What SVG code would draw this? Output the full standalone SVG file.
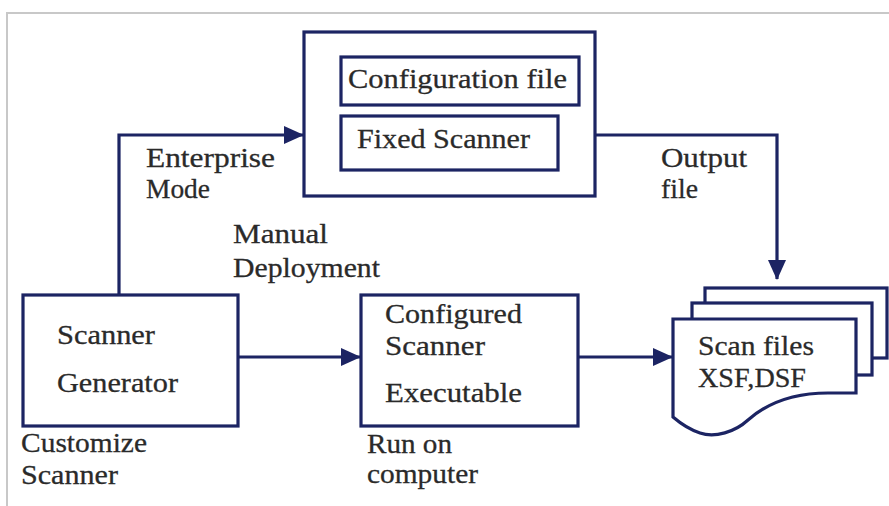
<svg xmlns="http://www.w3.org/2000/svg" width="889" height="506" viewBox="0 0 889 506">
<defs>
<style>
.box{fill:#fff;stroke:#1c2463;stroke-width:3.2}
.ln{fill:none;stroke:#1c2463;stroke-width:3.2}
text{font-family:"Liberation Serif","Times New Roman",serif;font-size:28px;fill:#2a2a2a;stroke:#2a2a2a;stroke-width:0.3}
</style>
<marker id="ah" markerUnits="userSpaceOnUse" markerWidth="20" markerHeight="20" viewBox="0 0 20 20" refX="19" refY="10" orient="auto">
<path d="M0,1 L20,10 L0,19 Z" fill="#1c2463"/>
</marker>
</defs>
<rect width="889" height="506" fill="#fff"/>
<path d="M7,506 V13 H889" fill="none" stroke="#c8c8c8" stroke-width="2"/>
<g id="connectors">
<path class="ln" d="M119,295 V135 H303" marker-end="url(#ah)"/>
<path class="ln" d="M595,135 H777 V279" marker-end="url(#ah)"/>
<path class="ln" d="M238,357 H360" marker-end="url(#ah)"/>
<path class="ln" d="M578,357 H672" marker-end="url(#ah)"/>
</g>
<g id="top-box">
<rect class="box" x="304" y="32" width="291" height="164"/>
<g id="config-file">
<rect class="box" x="341" y="57" width="238" height="48"/>
<text x="348" y="88" textLength="219" lengthAdjust="spacingAndGlyphs">Configuration file</text>
</g>
<g id="fixed-scanner">
<rect class="box" x="341" y="116" width="217" height="54"/>
<text x="357" y="148" textLength="173" lengthAdjust="spacingAndGlyphs">Fixed Scanner</text>
</g>
</g>
<g id="scanner-generator">
<rect class="box" x="23" y="295" width="215" height="131"/>
<text x="57" y="344" textLength="98" lengthAdjust="spacingAndGlyphs">Scanner</text>
<text x="57" y="392" textLength="121" lengthAdjust="spacingAndGlyphs">Generator</text>
</g>
<g id="configured-scanner">
<rect class="box" x="361" y="295" width="217" height="131"/>
<text x="385" y="323" textLength="137" lengthAdjust="spacingAndGlyphs">Configured</text>
<text x="385" y="355" textLength="100" lengthAdjust="spacingAndGlyphs">Scanner</text>
<text x="385" y="402" textLength="137" lengthAdjust="spacingAndGlyphs">Executable</text>
</g>
<g id="scan-files">
<rect class="box" x="705" y="288" width="182" height="70"/>
<rect class="box" x="692" y="303" width="180" height="72"/>
<path class="box" d="M673,319 H856 V393 H828 C790,393 765,405 748,420 C735,432 715,438 700,433 C688,429 680,423 673,417 Z"/>
<text x="698" y="355" textLength="116" lengthAdjust="spacingAndGlyphs">Scan files</text>
<text x="698" y="387" textLength="108" lengthAdjust="spacingAndGlyphs">XSF,DSF</text>
</g>
<g id="labels">
<text x="146" y="167" textLength="129" lengthAdjust="spacingAndGlyphs">Enterprise</text>
<text x="146" y="198" textLength="64" lengthAdjust="spacingAndGlyphs">Mode</text>
<text x="233" y="243" textLength="95" lengthAdjust="spacingAndGlyphs">Manual</text>
<text x="233" y="277" textLength="147" lengthAdjust="spacingAndGlyphs">Deployment</text>
<text x="661" y="167" textLength="86" lengthAdjust="spacingAndGlyphs">Output</text>
<text x="661" y="198" textLength="37" lengthAdjust="spacingAndGlyphs">file</text>
<text x="21" y="452" textLength="126" lengthAdjust="spacingAndGlyphs">Customize</text>
<text x="21" y="484" textLength="97" lengthAdjust="spacingAndGlyphs">Scanner</text>
<text x="367" y="453" textLength="85" lengthAdjust="spacingAndGlyphs">Run on</text>
<text x="367" y="483" textLength="111" lengthAdjust="spacingAndGlyphs">computer</text>
</g>
</svg>
